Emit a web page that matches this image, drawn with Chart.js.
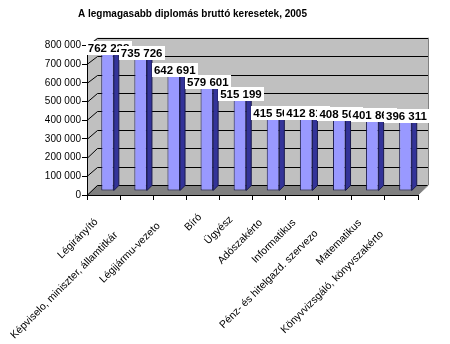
<!DOCTYPE html>
<html>
<head>
<meta charset="utf-8">
<script src="https://cdn.jsdelivr.net/npm/chart.js@4.4.1/dist/chart.umd.min.js"></script>
<style>
  html, body { margin: 0; padding: 0; background: #fff; }
  canvas { display: block; }
</style>
</head>
<body>
<canvas id="c" width="450" height="344"></canvas>
<script>
// Highest gross earnings of graduate occupations, 2005 (HUF / month)
const chartTitle = 'A legmagasabb diplomás bruttó keresetek, 2005';
const categories = [
  'Légirányító',
  'Képviselo, miniszter, államtitkár',
  'Légijármu-vezeto',
  'Bíró',
  'Ügyész',
  'Adószakérto',
  'Informatikus',
  'Pénz- és hitelgazd. szervezo',
  'Matematikus',
  'Könyvvizsgáló, könyvszakérto'
];
const earnings = [762228, 735726, 642691, 579601, 515199, 415503, 412817, 408506, 401863, 396311];
const yMin = 0;
const yMax = 800000;
const yStep = 100000;

const FONT = "'Liberation Sans', Arial, Helvetica, sans-serif";
const DEPTH = 10;      // depth of the 3D box (walls / floor)
const BAR_OFF = 4;     // bars sit this far back inside the box
const BAR_DEPTH = 5;   // thickness of each column

function fmt(v) {
  return String(v).replace(/\B(?=(\d{3})+(?!\d))/g, ' ');
}

// walls, floor and wall gridlines of the 3D box
const box3d = {
  id: 'box3d',
  beforeDraw(chart) {
    const { ctx, chartArea: a, scales: { y } } = chart;
    const L = a.left, R = a.right, B = a.bottom;
    const back = v => (B - DEPTH) - (B - y.getPixelForValue(v)) * 0.986;
    const wallTop = back(yMax);
    const frontTop = y.getPixelForValue(yMax);
    ctx.save();
    // back wall
    ctx.fillStyle = '#c0c0c0';
    ctx.fillRect(L + DEPTH, wallTop, R - L, (B - DEPTH) - wallTop);
    // left side wall
    ctx.beginPath();
    ctx.moveTo(L, B);
    ctx.lineTo(L, frontTop);
    ctx.lineTo(L + DEPTH, wallTop);
    ctx.lineTo(L + DEPTH, B - DEPTH);
    ctx.closePath();
    ctx.fill();
    // floor
    ctx.fillStyle = '#808080';
    ctx.beginPath();
    ctx.moveTo(L, B);
    ctx.lineTo(R, B);
    ctx.lineTo(R + DEPTH, B - DEPTH);
    ctx.lineTo(L + DEPTH, B - DEPTH);
    ctx.closePath();
    ctx.fill();
    // gridlines on side wall and back wall
    ctx.strokeStyle = '#000';
    ctx.lineWidth = 1;
    for (let v = yMin; v <= yMax; v += yStep) {
      const yf = Math.round(y.getPixelForValue(v)) + 0.5;
      const yb = Math.round(back(v)) + 0.5;
      ctx.beginPath();
      ctx.moveTo(L, yf);
      ctx.lineTo(L + DEPTH + 0.5, yb);
      ctx.lineTo(R + DEPTH, yb);
      ctx.stroke();
    }
    // outer edges of the box
    ctx.strokeStyle = '#808080';
    ctx.beginPath();
    ctx.moveTo(Math.round(R + DEPTH) + 0.5, wallTop);
    ctx.lineTo(Math.round(R + DEPTH) + 0.5, B - DEPTH);
    ctx.lineTo(R, B);
    ctx.stroke();
    ctx.restore();
  },
  beforeDatasetsDraw(chart) {
    chart.ctx.save();
    chart.ctx.translate(BAR_OFF, -BAR_OFF);
  },
  afterDatasetsDraw(chart) {
    const ctx = chart.ctx;
    const meta = chart.getDatasetMeta(0);
    meta.data.forEach(bar => {
      const { x, y, base, width } = bar.getProps(['x', 'y', 'base', 'width'], true);
      const l = x - width / 2, r = x + width / 2;
      ctx.lineWidth = 1;
      ctx.strokeStyle = '#1a1a4d';
      // right side of column
      ctx.fillStyle = '#333399';
      ctx.beginPath();
      ctx.moveTo(r, y);
      ctx.lineTo(r + BAR_DEPTH, y - BAR_DEPTH);
      ctx.lineTo(r + BAR_DEPTH, base - BAR_DEPTH);
      ctx.lineTo(r, base);
      ctx.closePath();
      ctx.fill();
      ctx.stroke();
      // top of column
      ctx.fillStyle = '#ccccff';
      ctx.beginPath();
      ctx.moveTo(l, y);
      ctx.lineTo(r, y);
      ctx.lineTo(r + BAR_DEPTH, y - BAR_DEPTH);
      ctx.lineTo(l + BAR_DEPTH, y - BAR_DEPTH);
      ctx.closePath();
      ctx.fill();
      ctx.stroke();
    });
    ctx.restore();

    // value labels on white boxes
    ctx.save();
    ctx.font = 'bold 11.5px ' + FONT;
    ctx.textAlign = 'center';
    ctx.textBaseline = 'middle';
    meta.data.forEach((bar, i) => {
      const { x, y } = bar.getProps(['x', 'y'], true);
      const txt = fmt(earnings[i]);
      const w = ctx.measureText(txt).width;
      const cx = x + BAR_OFF + 1;
      const cy = y - BAR_OFF - 0.5;
      ctx.fillStyle = '#fff';
      ctx.fillRect(Math.round(cx - w / 2 - 2), Math.round(cy - 7), Math.round(w + 4), 14);
      ctx.fillStyle = '#000';
      ctx.fillText(txt, cx, cy + 0.5);
    });
    ctx.restore();
  },
  afterDraw(chart) {
    const { ctx, chartArea: a, scales: { x } } = chart;
    ctx.save();
    // title
    ctx.font = 'bold 10px ' + FONT;
    ctx.fillStyle = '#000';
    ctx.textAlign = 'left';
    ctx.textBaseline = 'middle';
    ctx.fillText(chartTitle, 78, 14);
    // slanted category labels
    ctx.font = '10.5px ' + FONT;
    ctx.textAlign = 'right';
    categories.forEach((lab, i) => {
      const cx = x.getPixelForValue(i);
      const w = ctx.measureText(lab).width;
      const s = 0.14 * (w - 50);
      ctx.save();
      ctx.translate(cx - 7 - s, a.bottom + 25 + s);
      ctx.rotate(-Math.PI / 4);
      ctx.fillText(lab, 0, 0);
      ctx.restore();
    });
    ctx.restore();
  }
};

new Chart(document.getElementById('c'), {
  type: 'bar',
  data: {
    labels: categories,
    datasets: [{
      data: earnings,
      backgroundColor: '#9999ff',
      borderColor: '#1a1a4d',
      borderWidth: 1,
      borderSkipped: false,
      categoryPercentage: 1,
      barPercentage: 0.38,
      clip: false
    }]
  },
  options: {
    responsive: false,
    devicePixelRatio: 1,
    animation: false,
    layout: { padding: { top: 45.6, right: 32, left: 0, bottom: 0 } },
    plugins: { legend: { display: false }, tooltip: { enabled: false }, title: { display: false } },
    scales: {
      x: {
        afterFit(scale) { scale.height = 149; },
        ticks: { display: false },
        grid: { drawOnChartArea: false, drawTicks: true, tickLength: 5, color: '#000', offset: true },
        border: { display: true, color: '#000' }
      },
      y: {
        min: yMin,
        max: yMax,
        afterFit(scale) { scale.width = 87; },
        ticks: {
          stepSize: yStep,
          padding: 1,
          color: '#000',
          font: { family: FONT, size: 10 },
          callback: v => fmt(v)
        },
        grid: { drawOnChartArea: false, drawTicks: true, tickLength: 5, color: '#000' },
        border: { display: true, color: '#000' }
      }
    }
  },
  plugins: [box3d]
});
</script>
</body>
</html>
